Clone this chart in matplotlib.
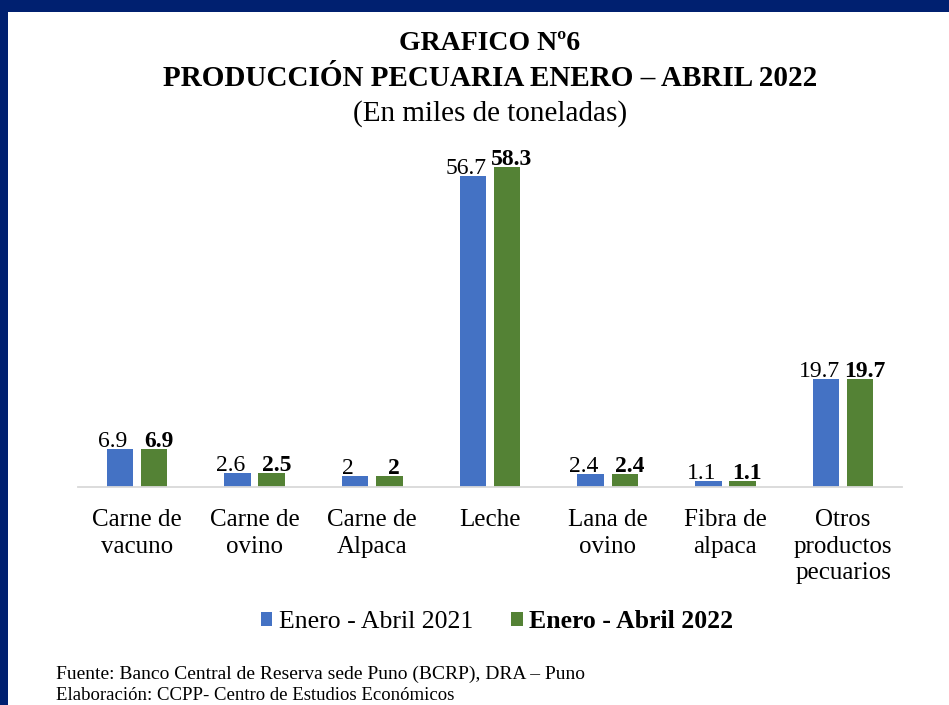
import numpy as np
import matplotlib.pyplot as plt
from matplotlib.patches import Rectangle

# données (miles de tonnes)
categorias = ["Carne de\nvacuno", "Carne de\novino", "Carne de\nAlpaca", "Leche",
              "Lana de\novino", "Fibra de\nalpaca", "Otros\nproductos\npecuarios"]
ene_abr_2021 = [6.9, 2.6, 2.0, 56.7, 2.4, 1.1, 19.7]
ene_abr_2022 = [6.9, 2.5, 2.0, 58.3, 2.4, 1.1, 19.7]
etiq_2021 = ["6.9", "2.6", "2", "56.7", "2.4", "1.1", "19.7"]
etiq_2022 = ["6.9", "2.5", "2", "58.3", "2.4", "1.1", "19.7"]

AZUL = "#4472C4"
VERDE = "#548235"
NAVY = "#002070"
W, H = 949, 705

plt.rcParams["font.family"] = ["Liberation Serif", "DejaVu Serif"]

fig = plt.figure(figsize=(W / 100, H / 100), dpi=100)
fig.patch.set_facecolor("white")

# cadre bleu marine (haut + gauche)
fig.patches.append(Rectangle((0, 1 - 11.5 / H), 1, 11.5 / H, transform=fig.transFigure,
                             facecolor=NAVY, edgecolor="none", zorder=0))
fig.patches.append(Rectangle((0, 0), 8 / W, 1, transform=fig.transFigure,
                             facecolor=NAVY, edgecolor="none", zorder=0))

# axes : x 78..902 px, y base = 487 px
x0, x1 = 78, 902
ybase = 487
ymax = 60
ppu = 320 / 58.3
ytop = ybase - ymax * ppu
ax = fig.add_axes([x0 / W, 1 - ybase / H, (x1 - x0) / W, (ybase - ytop) / H])

x = np.arange(len(categorias))
bw = 0.225
off = 0.145
b1 = ax.bar(x - off, ene_abr_2021, bw, color=AZUL, label="Enero - Abril 2021", zorder=2)
b2 = ax.bar(x + off, ene_abr_2022, bw, color=VERDE, label="Enero - Abril 2022", zorder=2)

# étiquettes un peu écartées (comme dans Excel)
for r, t in zip(b1, etiq_2021):
    ax.annotate(t, (r.get_x() + r.get_width() / 2, r.get_height()), xytext=(-5, -2),
                textcoords="offset points", ha="center", va="bottom", fontsize=17)
for r, t in zip(b2, etiq_2022):
    ax.annotate(t, (r.get_x() + r.get_width() / 2, r.get_height()), xytext=(3.5, -2),
                textcoords="offset points", ha="center", va="bottom", fontsize=17,
                fontweight="bold")

ax.set_xlim(-0.5, len(categorias) - 0.5)
ax.set_ylim(0, ymax)
ax.set_yticks([])
ax.set_xticks(x)
ax.set_xticklabels(categorias, fontsize=18, linespacing=1.26)
ax.tick_params(axis="x", length=0, pad=16)
for s in ["top", "right", "left"]:
    ax.spines[s].set_visible(False)
ax.spines["bottom"].set_color("#d9d9d9")
ax.spines["bottom"].set_linewidth(1.3)
ax.set_facecolor("none")

# titres
fig.text(490 / W, 1 - 43 / H, "GRAFICO Nº6", ha="center", va="center",
         fontsize=20, fontweight="bold")
fig.text(490 / W, 1 - 79 / H, "PRODUCCIÓN PECUARIA ENERO – ABRIL 2022", ha="center",
         va="center", fontsize=21, fontweight="bold")
fig.text(490 / W, 1 - 114 / H, "(En miles de toneladas)", ha="center", va="center",
         fontsize=21)

# légende
leg = fig.legend(handles=[b1, b2], loc="center", bbox_to_anchor=(497 / W, 1 - 622 / H),
                 ncol=2, frameon=False, fontsize=18.5, handlelength=0.45, handleheight=0.45,
                 handletextpad=0.25, columnspacing=1.5)
leg.get_texts()[1].set_fontweight("bold")

# sources
fig.text(56 / W, 1 - 674 / H, "Fuente: Banco Central de Reserva sede Puno (BCRP), DRA – Puno",
         ha="left", va="center", fontsize=14)
fig.text(56 / W, 1 - 695 / H, "Elaboración: CCPP- Centro de Estudios Económicos",
         ha="left", va="center", fontsize=13.5)

fig.savefig("out.png", dpi=100)
